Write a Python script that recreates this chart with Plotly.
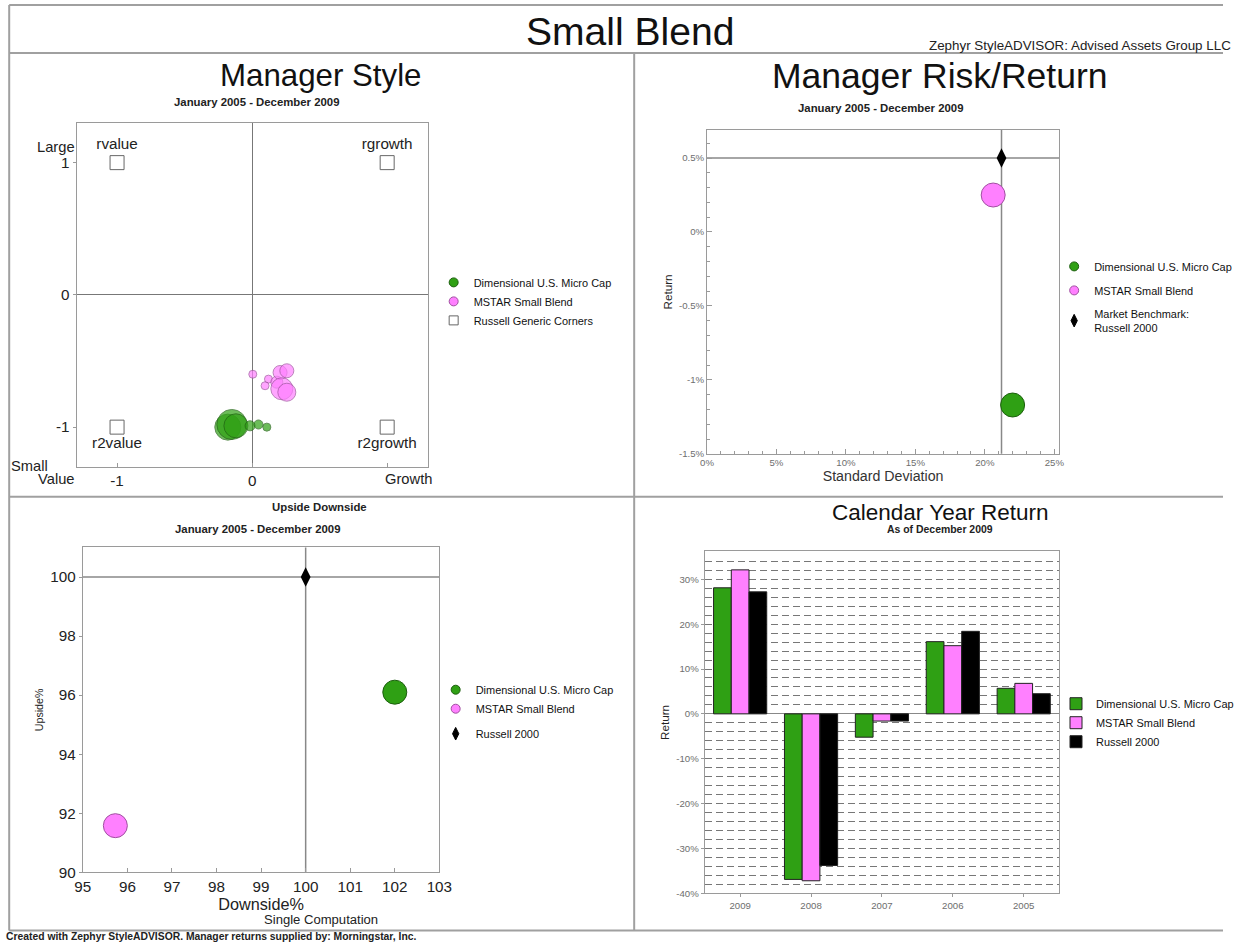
import plotly.graph_objects as go

W, H = 1239, 951
# The photographed page comes back slightly shrunk/offset; reference pixel positions are
# mapped through that measured correction so the picture lines up with the reference.
KX, OXC = 0.983, 8.3
KY, OYC = 0.992, -1.0
def px(x): return ((x - OXC) / KX) / W
def py(y): return 1 - ((y - OYC) / KY) / H
FS = 1.015
def f(s): return s * FS

FONT = "Liberation Sans, Arial, sans-serif"
GREEN = "#2fa014"
GREEN_EDGE = "#1d5f0f"
PINK = "#ff80ff"
PINK_EDGE = "#a050a0"
GRAYTXT = "#6e6e6e"
AXIS = "#9a9a9a"

# ---------------- data ----------------
series_names = ["Dimensional U.S. Micro Cap", "MSTAR Small Blend"]

# Manager Style (rolling style points)
style_dfa_x = [-0.18, -0.15, -0.12, -0.015, 0.047, 0.109]
style_dfa_y = [-1.00, -0.98, -0.99, -0.99, -0.98, -1.00]
style_dfa_size = [26, 30, 24, 10, 9, 8]
style_mstar_x = [0.005, 0.121, 0.096, 0.183, 0.207, 0.257, 0.22, 0.257]
style_mstar_y = [-0.60, -0.637, -0.687, -0.66, -0.587, -0.574, -0.71, -0.736]
style_mstar_size = [8, 8, 8, 12, 14, 14, 22, 18]
corner_labels = ["rvalue", "rgrowth", "r2value", "r2growth"]
corner_x = [-1, 1, -1, 1]
corner_y = [1, 1, -1, -1]

# Risk / Return
rr_std = [22.0, 20.6]
rr_ret = [-1.17, 0.25]
bench_std = 21.2
bench_ret = 0.50

# Upside / Downside
ud_down = [102.0, 95.73]
ud_up = [96.1, 91.58]
bench_down = 100.0
bench_up = 100.0

# Calendar year returns
years = ["2009", "2008", "2007", "2006", "2005"]
ret_dfa = [28.1, -36.9, -5.2, 16.1, 5.7]
ret_mstar = [32.1, -37.2, -1.6, 15.2, 6.8]
ret_r2000 = [27.2, -33.8, -1.6, 18.4, 4.5]

fig = go.Figure()

# ---------- Manager Style ----------
fig.add_trace(go.Scatter(x=style_dfa_x, y=style_dfa_y, mode="markers", showlegend=False,
    marker=dict(size=style_dfa_size, color=GREEN, line=dict(color=GREEN_EDGE, width=1)),
    xaxis="x", yaxis="y", name=series_names[0]))
fig.add_trace(go.Scatter(x=style_mstar_x, y=style_mstar_y, mode="markers", showlegend=False,
    marker=dict(size=style_mstar_size, color=PINK, line=dict(color=PINK_EDGE, width=1)),
    xaxis="x", yaxis="y", name=series_names[1]))
fig.add_trace(go.Scatter(x=corner_x, y=corner_y, mode="markers+text", text=corner_labels,
    textposition=["top center", "top center", "bottom center", "bottom center"],
    textfont=dict(size=f(15), color="#222", family=FONT), showlegend=False,
    marker=dict(symbol="square", size=14, color="white", line=dict(color="#666", width=1)),
    xaxis="x", yaxis="y", name="Russell Generic Corners"))
for nm, col, edge, sym in [(series_names[0], GREEN, GREEN_EDGE, "circle"),
                           (series_names[1], PINK, PINK_EDGE, "circle"),
                           ("Russell Generic Corners", "white", "#666", "square")]:
    fig.add_trace(go.Scatter(x=[None], y=[None], mode="markers", name=nm, legend="legend",
        marker=dict(symbol=sym, size=9, color=col, line=dict(color=edge, width=1)),
        xaxis="x", yaxis="y"))

# ---------- Risk / Return ----------
fig.add_trace(go.Scatter(x=[rr_std[0]], y=[rr_ret[0]], mode="markers", showlegend=False,
    marker=dict(size=24, color=GREEN, line=dict(color=GREEN_EDGE, width=1)), xaxis="x2", yaxis="y2"))
fig.add_trace(go.Scatter(x=[rr_std[1]], y=[rr_ret[1]], mode="markers", showlegend=False,
    marker=dict(size=24, color=PINK, line=dict(color=PINK_EDGE, width=1)), xaxis="x2", yaxis="y2"))
fig.add_trace(go.Scatter(x=[bench_std], y=[bench_ret], mode="markers", showlegend=False,
    marker=dict(symbol="diamond-tall", size=14, color="black"), xaxis="x2", yaxis="y2"))
for i, (nm, col, edge, sym) in enumerate([(series_names[0], GREEN, GREEN_EDGE, "circle"),
                           (series_names[1], PINK, PINK_EDGE, "circle"),
                           ("Market Benchmark:<br>Russell 2000", "black", "black", "diamond-tall")]):
    fig.add_trace(go.Scatter(x=[None], y=[None], mode="markers", name=nm, legend="legend2",
        legendgroup="rr%d" % i,
        marker=dict(symbol=sym, size=9, color=col, line=dict(color=edge, width=1)),
        xaxis="x2", yaxis="y2"))

# ---------- Upside / Downside ----------
fig.add_trace(go.Scatter(x=[ud_down[0]], y=[ud_up[0]], mode="markers", showlegend=False,
    marker=dict(size=24, color=GREEN, line=dict(color=GREEN_EDGE, width=1)), xaxis="x3", yaxis="y3"))
fig.add_trace(go.Scatter(x=[ud_down[1]], y=[ud_up[1]], mode="markers", showlegend=False,
    marker=dict(size=24, color=PINK, line=dict(color=PINK_EDGE, width=1)), xaxis="x3", yaxis="y3"))
fig.add_trace(go.Scatter(x=[bench_down], y=[bench_up], mode="markers", showlegend=False,
    marker=dict(symbol="diamond-tall", size=14, color="black"), xaxis="x3", yaxis="y3"))
for nm, col, edge, sym, grp in [(series_names[0], GREEN, GREEN_EDGE, "circle", "a"),
                           (series_names[1], PINK, PINK_EDGE, "circle", "a"),
                           ("Russell 2000", "black", "black", "diamond-tall", "b")]:
    fig.add_trace(go.Scatter(x=[None], y=[None], mode="markers", name=nm, legend="legend3",
        legendgroup=grp,
        marker=dict(symbol=sym, size=9, color=col, line=dict(color=edge, width=1)),
        xaxis="x3", yaxis="y3"))

# ---------- Calendar Year Return ----------
for nm, vals, col in [(series_names[0], ret_dfa, GREEN), (series_names[1], ret_mstar, PINK),
                      ("Russell 2000", ret_r2000, "black")]:
    fig.add_trace(go.Bar(x=years, y=vals, name=nm, legend="legend4",
        marker=dict(color=col, line=dict(color="#222", width=1)), xaxis="x4", yaxis="y4"))

# ---------------- layout ----------------
axis_common = dict(showline=True, mirror=True, linecolor=AXIS, linewidth=1, showgrid=False)
LEG_FONT = dict(size=f(10.8), color="#111")

layout = dict(
    width=W, height=H, margin=dict(l=0, r=0, t=0, b=0),
    paper_bgcolor="white", plot_bgcolor="white",
    font=dict(family=FONT, color="#222"),
    barmode="group", bargap=0.25, bargroupgap=0,
    xaxis=dict(domain=[px(77), px(429)], anchor="y", range=[-1.3, 1.3],
               tickvals=[-1, 0, 1], ticktext=["-1", "0", ""], ticks="inside", ticklen=4,
               tickcolor=AXIS, tickfont=dict(size=f(15), color="#222"),
               zeroline=True, zerolinecolor="#777", zerolinewidth=1, **axis_common),
    yaxis=dict(domain=[py(466), py(122)], anchor="x", range=[-1.3, 1.3],
               tickvals=[-1, 0, 1], ticktext=["-1", "0", "1"], ticks="outside", ticklen=3,
               tickcolor=AXIS, tickfont=dict(size=f(15), color="#222"),
               zeroline=True, zerolinecolor="#777", zerolinewidth=1, **axis_common),
    xaxis2=dict(domain=[px(709), px(1062)], anchor="y2", range=[0, 25.35],
                tickvals=[0, 5, 10, 15, 20, 25], ticktext=["0%", "5%", "10%", "15%", "20%", "25%"],
                ticks="inside", ticklen=5, tickcolor=AXIS,
                minor=dict(dtick=1, ticks="inside", ticklen=3, tickcolor=AXIS),
                tickfont=dict(size=f(9.5), color=GRAYTXT), zeroline=False,
                title=dict(text="Standard Deviation", font=dict(size=f(14), color="#333"), standoff=3),
                **axis_common),
    yaxis2=dict(domain=[py(453), py(129)], anchor="x2", range=[-1.5, 0.69],
                tickvals=[-1.5, -1, -0.5, 0, 0.5], ticktext=["-1.5%", "-1%", "-0.5%", "0%", "0.5%"],
                ticks="inside", ticklen=5, tickcolor=AXIS,
                minor=dict(dtick=0.1, ticks="inside", ticklen=3, tickcolor=AXIS),
                tickfont=dict(size=f(9.5), color=GRAYTXT), zeroline=False,
                title=dict(text="Return", font=dict(size=f(11.5), color="#222"), standoff=3),
                **axis_common),
    xaxis3=dict(domain=[px(83.3), px(440.7)], anchor="y3", range=[95, 103], dtick=1,
                ticks="inside", ticklen=4, tickcolor=AXIS, tickfont=dict(size=f(15), color="#222"),
                zeroline=False,
                title=dict(text="Downside%", font=dict(size=f(16), color="#222"), standoff=0),
                **axis_common),
    yaxis3=dict(domain=[py(871.7), py(546.7)], anchor="x3", range=[90, 101],
                tickvals=[90, 92, 94, 96, 98, 100], ticks="outside", ticklen=3, tickcolor=AXIS,
                tickfont=dict(size=f(15), color="#222"), zeroline=False,
                title=dict(text="Upside%", font=dict(size=f(10.5), color="#222"), standoff=4),
                **axis_common),
    xaxis4=dict(domain=[px(706.7), px(1062)], anchor="y4", type="category",
                ticks="outside", ticklen=3, tickcolor=AXIS, tickfont=dict(size=f(9.5), color=GRAYTXT),
                zeroline=False, **axis_common),
    yaxis4=dict(domain=[py(892.7), py(550.7)], anchor="x4", range=[-40, 36.2],
                tickvals=[-40, -30, -20, -10, 0, 10, 20, 30],
                ticktext=["-40%", "-30%", "-20%", "-10%", "0%", "10%", "20%", "30%"],
                ticks="outside", ticklen=3, tickcolor=AXIS, tickfont=dict(size=f(9.5), color=GRAYTXT),
                showline=True, mirror=True, linecolor=AXIS, linewidth=1,
                showgrid=True, gridcolor="#777", griddash="7px,4px", gridwidth=1,
                minor=dict(dtick=2, showgrid=True, gridcolor="#777", griddash="7px,4px", gridwidth=1),
                zeroline=True, zerolinecolor="#888", zerolinewidth=1,
                title=dict(text="Return", font=dict(size=f(11.5), color="#222"), standoff=4)),
    legend=dict(x=px(435), y=py(267), xanchor="left", yanchor="top", bgcolor="rgba(0,0,0,0)",
                font=LEG_FONT, tracegroupgap=0),
    legend2=dict(x=px(1057), y=py(251), xanchor="left", yanchor="top", bgcolor="rgba(0,0,0,0)",
                 font=LEG_FONT, traceorder="grouped", tracegroupgap=5),
    legend3=dict(x=px(437), y=py(674.5), xanchor="left", yanchor="top", bgcolor="rgba(0,0,0,0)",
                 font=LEG_FONT, traceorder="grouped", tracegroupgap=6),
    legend4=dict(x=px(1059), y=py(688.5), xanchor="left", yanchor="top", bgcolor="rgba(0,0,0,0)",
                 font=LEG_FONT, tracegroupgap=0),
)
fig.update_layout(**layout)

# ---------------- frame & crosshair shapes ----------------
BOTTOM = 930
frame = dict(type="line", xref="paper", yref="paper", line=dict(color="#a0a0a0", width=2))
shapes = [
    dict(frame, x0=px(9.5), x1=1, y0=py(4), y1=py(4)),
    dict(frame, x0=px(9.5), x1=1, y0=py(BOTTOM), y1=py(BOTTOM)),
    dict(frame, x0=px(9.5), x1=px(9.5), y0=py(BOTTOM), y1=py(4)),
    dict(frame, x0=px(9.5), x1=1, y0=py(52), y1=py(52)),
    dict(frame, x0=px(636), x1=px(636), y0=py(BOTTOM), y1=py(52)),
    dict(frame, x0=px(9.5), x1=1, y0=py(496), y1=py(496)),
    dict(type="line", xref="x2", yref="y2 domain", x0=bench_std, x1=bench_std, y0=0, y1=1,
         line=dict(color="#888", width=1.5), layer="below"),
    dict(type="line", xref="x2 domain", yref="y2", x0=0, x1=1, y0=bench_ret, y1=bench_ret,
         line=dict(color="#888", width=1.5), layer="below"),
    dict(type="line", xref="x3", yref="y3 domain", x0=bench_down, x1=bench_down, y0=0, y1=1,
         line=dict(color="#888", width=1.5), layer="below"),
    dict(type="line", xref="x3 domain", yref="y3", x0=0, x1=1, y0=bench_up, y1=bench_up,
         line=dict(color="#888", width=1.5), layer="below"),
]
fig.update_layout(shapes=shapes)

# ---------------- text annotations ----------------
def ann(text, x, y, size, xanchor="center", color="#111", yanchor="middle"):
    return dict(text=text, x=px(x), y=py(y), xref="paper", yref="paper", showarrow=False,
                xanchor=xanchor, yanchor=yanchor, font=dict(size=f(size), color=color, family=FONT))

annotations = [
    ann("Small Blend", 632, 31, 38.5),
    ann("Zephyr StyleADVISOR: Advised Assets Group LLC", 930, 45, 13.2, xanchor="left", color="#222"),
    ann("Manager Style", 322, 75, 30.8),
    ann("<b>January 2005 - December 2009</b>", 257, 101, 11.2, color="#222"),
    ann("Manager Risk/Return", 943, 75, 35),
    ann("<b>January 2005 - December 2009</b>", 883, 107, 11.2, color="#222"),
    ann("<b>Upside Downside</b>", 321, 506, 11.2, color="#222"),
    ann("<b>January 2005 - December 2009</b>", 258, 528, 11.2, color="#222"),
    ann("Calendar Year Return", 943, 512, 22.2),
    ann("<b>As of December 2009</b>", 943, 529, 10.3, color="#222"),
    ann("Single Computation", 322, 919, 12.9, color="#222"),
    dict(text="<b>Created with Zephyr StyleADVISOR. Manager returns supplied by: Morningstar, Inc.</b>",
         x=px(5), y=0.0, xref="paper", yref="paper", showarrow=False, xanchor="left",
         yanchor="bottom", borderpad=0, font=dict(size=f(10.2), color="#222", family=FONT)),
    ann("Large", 56, 146, 14.5, color="#222"),
    ann("Small", 30, 465, 14.5, color="#222"),
    ann("Value", 57, 478, 14.5, color="#222"),
    ann("Growth", 410, 478, 14.5, color="#222"),
]
fig.update_layout(annotations=annotations)

POST = (
    "var gd=document.getElementById('{plot_id}');"
    "document.documentElement.style.margin='0';document.documentElement.style.padding='0';"
    "document.documentElement.style.overflow='hidden';"
    "document.body.style.margin='0';document.body.style.padding='0';document.body.style.overflow='hidden';"
    "gd.style.position='fixed';gd.style.left='0px';gd.style.top='0px';"
)
fig.write_html("out.html", config={"displayModeBar": False}, post_script=POST)
